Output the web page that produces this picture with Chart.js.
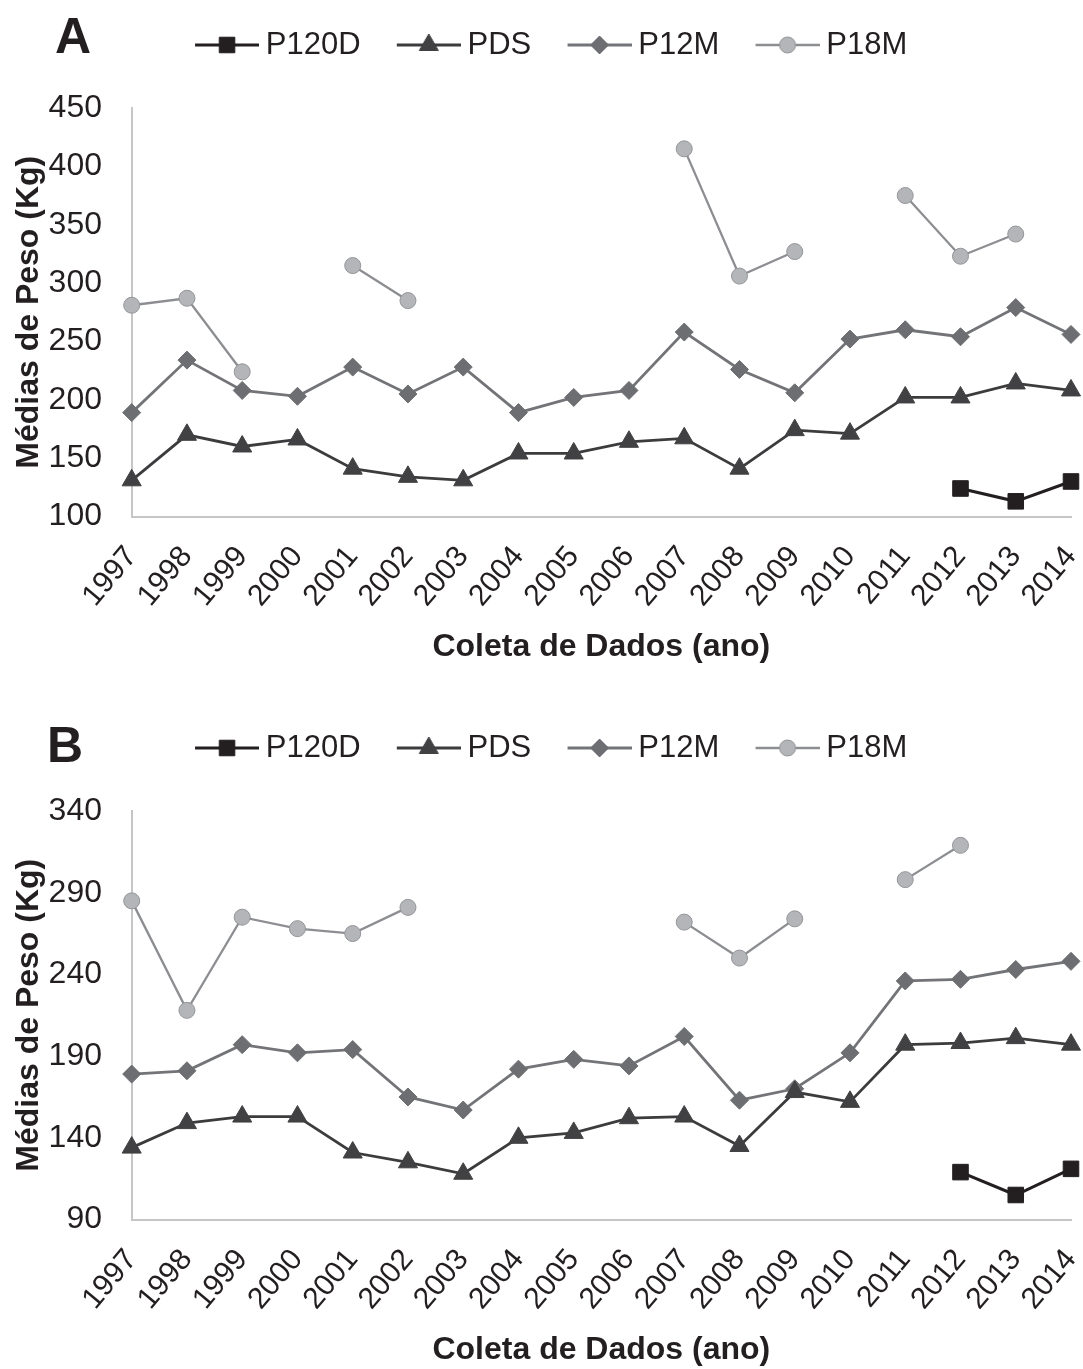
<!DOCTYPE html>
<html lang="pt">
<head>
<meta charset="utf-8">
<title>Médias de Peso</title>
<script src="https://cdn.jsdelivr.net/npm/chart.js@4.4.1/dist/chart.umd.min.js"></script>
<style>
  body { margin: 0; background: #fff; }
  .painel { position: relative; width: 1083px; }
  .painel canvas { display: block; }
  .letra {
    position: absolute;
    font: bold 50px "Liberation Sans", Arial, Helvetica, sans-serif;
    line-height: 1;
    color: #231f20;
  }
</style>
</head>
<body>
<div class="painel" style="height:703px">
  <div class="letra" style="left:55px; top:11px">A</div>
  <canvas id="grafico_a" width="1083" height="703"></canvas>
</div>
<div class="painel" style="height:666px">
  <div class="letra" style="left:47px; top:17px">B</div>
  <canvas id="grafico_b" width="1083" height="666"></canvas>
</div>

<script>
// Dados
const anos = ['1997', '1998', '1999', '2000', '2001', '2002', '2003', '2004', '2005',
  '2006', '2007', '2008', '2009', '2010', '2011', '2012', '2013', '2014'];

const seriesNomes = ['P120D', 'PDS', 'P12M', 'P18M'];

// Grafico A
const p120dA = [null, null, null, null, null, null, null, null, null, null, null, null, null, null, null, 124, 113, 130];
const pdsA = [131, 170, 160, 166, 141, 134, 131, 154, 154, 164, 167, 141, 174, 171, 202, 202, 214, 208];
const p12mA = [189, 234, 208, 203, 228, 205, 228, 189, 202, 208, 258, 226, 206, 252, 260, 254, 279, 256];
const p18mA = [281, 287, 224, null, 315, 285, null, null, null, null, 415, 306, 327, null, 375, 323, 342, null];
const ticksA = { min: 100, max: 450, step: 50 };

// Grafico B
const p120dB = [null, null, null, null, null, null, null, null, null, null, null, null, null, null, null, 119, 105, 121];
const pdsB = [134, 149, 153, 153, 131, 125, 118, 140, 143, 152, 153, 135, 168, 162, 197, 198, 201, 197];
const p12mB = [179, 181, 197, 192, 194, 165, 157, 182, 188, 184, 202, 163, 170, 192, 236, 237, 243, 248];
const p18mB = [285, 218, 275, 268, 265, 281, null, null, null, null, 272, 250, 274, null, 298, 319, null, null];
const ticksB = { min: 90, max: 340, step: 50 };

// Estilos
const fonte = '"Liberation Sans", Arial, Helvetica, sans-serif';
const corTexto = '#231f20';
const corEixo = '#c6c6c6';

const estilos = [
  { linha: '#231f20', preenche: '#231f20', borda: '#231f20', ponto: 'rect', raio: 11, largura: 3 },
  { linha: '#3c3c3e', preenche: '#414042', borda: '#414042', ponto: 'triangle', raio: 11, largura: 2.8 },
  { linha: '#737477', preenche: '#6d6e71', borda: '#6d6e71', ponto: 'rectRot', raio: 9, largura: 2.8 },
  { linha: '#8c8e91', preenche: '#b3b5b8', borda: '#939598', ponto: 'circle', raio: 8, largura: 2.3 }
];

// legenda: linha com marcador no meio
const legendaFonte = 31;
const legendaPadding = 10;
const legendaBox = 81.5;
const iconeLargura = 99;
const simboloLargura = 64;

// medidas do layout (px)
const larguraEixoY = 131.7;
const topoEixoX = 516.5;

function iconeLegenda(s) {
  const c = document.createElement('canvas');
  c.width = iconeLargura;
  c.height = 32;
  const ctx = c.getContext('2d');
  const inicio = iconeLargura - simboloLargura;
  const meio = inicio + simboloLargura / 2;
  ctx.strokeStyle = s.linha;
  ctx.lineWidth = s.largura;
  ctx.beginPath();
  ctx.moveTo(inicio, 16);
  ctx.lineTo(iconeLargura, 16);
  ctx.stroke();
  ctx.fillStyle = s.preenche;
  ctx.strokeStyle = s.borda;
  ctx.lineWidth = 1;
  Chart.helpers.drawPoint(ctx, { pointStyle: s.ponto, radius: s.raio, borderWidth: 1, rotation: 0 }, meio, 16);
  return c;
}

const icones = estilos.map(iconeLegenda);

// espaco entre legenda e area do grafico
const espacoLegenda = {
  id: 'espacoLegenda',
  afterInit(chart) {
    const fitOriginal = chart.legend.fit;
    chart.legend.fit = function () {
      fitOriginal.call(this);
      this.height += 37.5;
    };
  }
};

function montaDatasets(valores) {
  return valores.map((dados, i) => ({
    label: seriesNomes[i],
    data: dados,
    borderColor: estilos[i].linha,
    borderWidth: estilos[i].largura,
    backgroundColor: estilos[i].preenche,
    pointStyle: estilos[i].ponto,
    pointRadius: estilos[i].raio,
    pointHoverRadius: estilos[i].raio,
    pointBackgroundColor: estilos[i].preenche,
    pointBorderColor: estilos[i].borda,
    pointBorderWidth: 1,
    tension: 0,
    spanGaps: false,
    clip: false
  }));
}

function drawChart(id, valores, escala, paddingBaixo, alturaCanvas) {
  const ctx = document.getElementById(id);
  const alturaEixoX = alturaCanvas - paddingBaixo - topoEixoX;

  new Chart(ctx, {
    type: 'line',
    data: {
      labels: anos,
      datasets: montaDatasets(valores)
    },
    options: {
      responsive: false,
      animation: false,
      events: [],
      layout: {
        padding: { top: 19.5, left: 0, right: 7, bottom: paddingBaixo }
      },
      plugins: {
        tooltip: { enabled: false },
        legend: {
          position: 'top',
          labels: {
            usePointStyle: true,
            pointStyleWidth: legendaBox,
            padding: legendaPadding,
            color: corTexto,
            font: { family: fonte, size: legendaFonte },
            generateLabels(chart) {
              const itens = Chart.defaults.plugins.legend.labels.generateLabels(chart);
              itens.forEach((item, i) => { item.pointStyle = icones[i]; });
              return itens;
            }
          }
        }
      },
      scales: {
        x: {
          offset: false,
          grid: { display: false, drawTicks: false },
          border: { display: true, color: corEixo, width: 2 },
          ticks: {
            color: corTexto,
            font: { family: fonte, size: 30 },
            minRotation: 50,
            maxRotation: 50,
            autoSkip: false,
            padding: 23
          },
          title: {
            display: true,
            text: 'Coleta de Dados (ano)',
            color: corTexto,
            font: { family: fonte, size: 32, weight: 'bold' },
            padding: { top: 0, bottom: 0 }
          },
          afterFit(scale) {
            scale.height = alturaEixoX;
            scale.paddingLeft = 0;
            scale.paddingRight = 0;
          }
        },
        y: {
          min: escala.min,
          max: escala.max,
          grid: { display: false, drawTicks: false },
          border: { display: true, color: corEixo, width: 2 },
          ticks: {
            stepSize: escala.step,
            color: corTexto,
            font: { family: fonte, size: 32 },
            padding: 29.7
          },
          title: {
            display: true,
            text: 'Médias de Peso (Kg)',
            color: corTexto,
            font: { family: fonte, size: 32, weight: 'bold' },
            padding: { top: 10, bottom: 0 }
          },
          afterFit(scale) {
            scale.width = larguraEixoY;
          }
        }
      }
    },
    plugins: [espacoLegenda]
  });
}

drawChart('grafico_a', [p120dA, pdsA, p12mA, p18mA], ticksA, 36.4, 703);
drawChart('grafico_b', [p120dB, pdsB, p12mB, p18mB], ticksB, 0, 666);
</script>
</body>
</html>
